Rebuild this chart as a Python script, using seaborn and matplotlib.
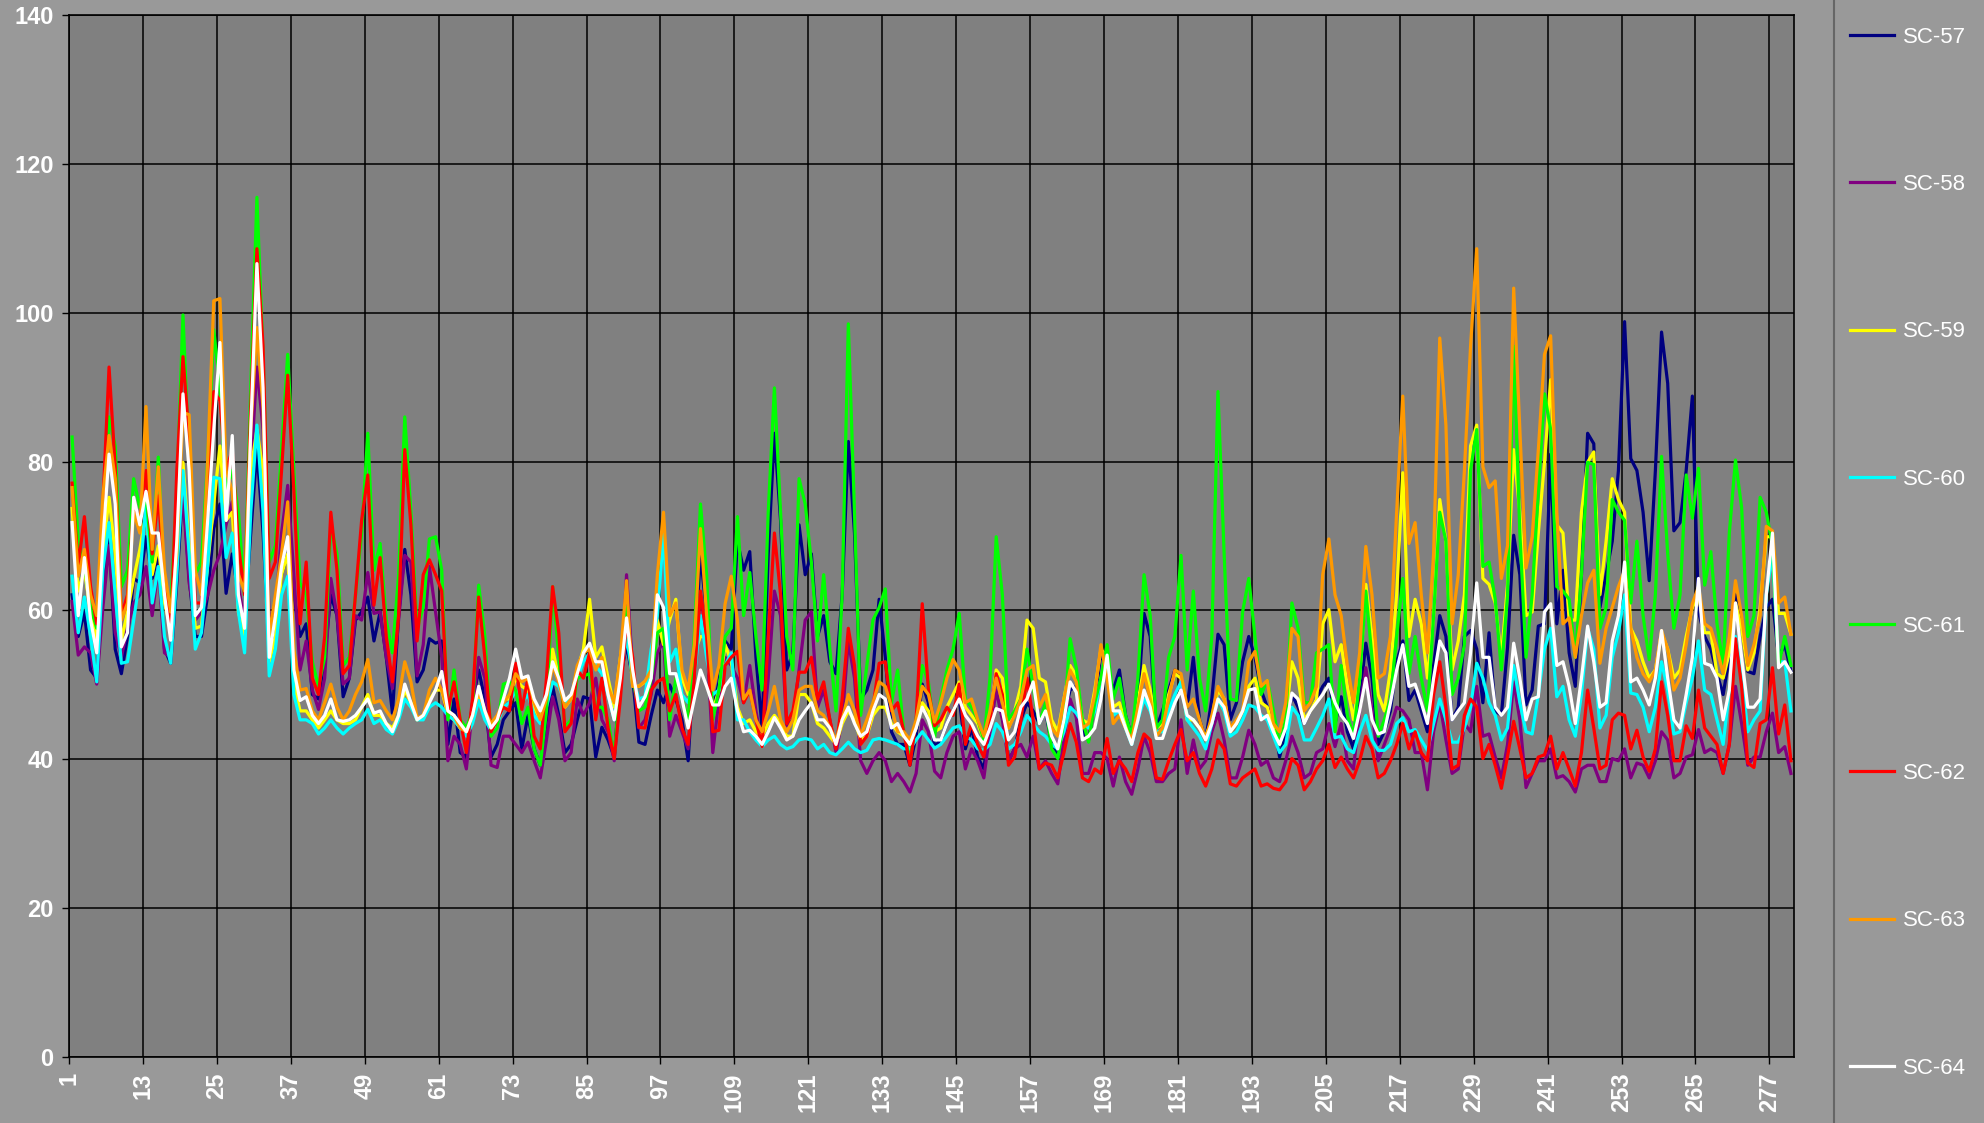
import matplotlib
matplotlib.use("Agg")
import matplotlib.pyplot as plt
import pandas as pd
import seaborn as sns
from matplotlib.lines import Line2D
from matplotlib.patches import Rectangle

plt.rcParams['font.family'] = ['Liberation Sans', 'DejaVu Sans']

series_names = ['SC-57', 'SC-58', 'SC-59', 'SC-60', 'SC-61', 'SC-62', 'SC-63', 'SC-64']
series_colors = ['#000080', '#800080', '#FFFF00', '#00FFFF', '#00FF00', '#FF0000', '#FF9900', '#FFFFFF']

day = list(range(1, 281))
x_tick_labels = [str(v) for v in range(1, 278, 12)]
y_ticks = [0, 20, 40, 60, 80, 100, 120, 140]

sc57 = [62.1, 56.5, 59.8, 52, 50.9, 62.1, 69.9, 54.8, 51.5, 56.5,
        64.3, 63.7, 69.9, 64.3, 67.6, 54.8, 52.9, 63.7, 76.5, 64.3,
        56.5, 56.5, 62, 71, 74.3, 62.3, 67.6, 62.1, 58.7, 70.4,
        81.6, 70.4, 54.8, 57, 64.8, 67.6, 62.1, 56.5, 58.2, 48.7,
        48.1, 53.7, 62.1, 59.3, 48.4, 50.9, 58.7, 59.8, 61.8, 55.9,
        59.8, 53.7, 46.2, 59.3, 68.2, 62.1, 50.4, 52, 56.2, 55.6,
        55.9, 42, 48.1, 40.9, 40.3, 47.6, 52, 48.1, 40.3, 42,
        45.3, 46.5, 47.6, 41.4, 45.9, 41.4, 39.2, 45.3, 49.8, 45.9,
        40.9, 42, 45.3, 48.4, 48.1, 40.3, 44.3, 42.6, 40.3, 50.9,
        55.4, 50.9, 42.3, 42, 45.9, 49.3, 47.6, 50, 48.1, 45.3,
        39.8, 53.7, 67.6, 59.3, 46.5, 50.4, 55.9, 54.8, 69.3, 65.4,
        67.9, 53.7, 44.2, 67.6, 83.8, 72.1, 52, 54.3, 71.5, 64.8,
        67.6, 56.5, 59.3, 53.1, 51.5, 62.1, 82.7, 70.4, 48.1, 49.3,
        52, 61.5, 53.7, 43.7, 42, 42, 39.2, 43.1, 50.1, 47.6,
        41.7, 42.6, 44.8, 46.5, 48.1, 41.4, 44.2, 40.3, 38.7, 45.3,
        50.9, 48.1, 39.8, 41.4, 45.3, 47.6, 46.5, 44.8, 46.5, 42,
        40.3, 45.9, 49.3, 49.8, 43.7, 42.6, 47.6, 54.3, 52, 49.3,
        52, 45.9, 43.1, 48.1, 59.6, 56.5, 44.2, 46.5, 49.3, 52,
        50.9, 47, 53.7, 45.3, 42.6, 48.1, 56.8, 55.4, 45.3, 47.6,
        53.1, 56.5, 53.7, 49.3, 47, 45.3, 40.3, 43.7, 48.7, 47,
        44.8, 46.5, 48.1, 49.8, 50.9, 44.8, 48.4, 43.7, 41.4, 48.1,
        55.6, 50.9, 42, 43.7, 46.5, 53.1, 55.9, 47.9, 49.3, 46.5,
        43.7, 52.6, 59.3, 56.5, 45.3, 47, 56.5, 57.3, 54.8, 47.6,
        57, 46.5, 45.9, 55, 70.1, 64.8, 47.3, 49.3, 57.9, 58.2,
        81, 58.2, 65.4, 54.3, 49.8, 64.8, 83.8, 82.4, 60.4, 64.8,
        69.3, 78.8, 98.8, 80.4, 78.8, 73.2, 64, 78.8, 97.4, 90.5,
        70.7, 71.8, 78.8, 88.8, 59.8, 56.5, 54.8, 51.5, 48.7, 53.7,
        62.1, 58.2, 51.8, 51.5, 56.5, 60.4, 61.5, 53.7, 55.4, 51.8]

sc58 = [61.2, 54, 55.1, 54.3, 50.1, 60.4, 68.7, 57, 53.7, 57.6,
        61, 62.1, 65.9, 59.3, 65.9, 54.3, 53.7, 67.6, 75.4, 63.7,
        58.7, 59.8, 62, 65.4, 67.6, 71.5, 74.6, 63.2, 58.7, 78.8,
        92.7, 84.3, 58.7, 59.8, 70.4, 76.8, 64.8, 52, 55.9, 49.3,
        46.7, 50.9, 64.3, 59.3, 50.1, 50.9, 59.3, 58.7, 65.1, 59.6,
        59.8, 53.7, 49.5, 58.7, 67.4, 66.5, 51.2, 55.4, 65.9, 59.8,
        53.7, 39.8, 43.1, 42, 38.7, 47, 53.7, 50.9, 39.2, 38.9,
        43.1, 43.1, 42, 40.9, 42.3, 39.8, 37.5, 42.6, 48.4, 45.3,
        39.8, 40.9, 48.1, 45.9, 47.6, 50.9, 45.3, 43.7, 39.8, 49.8,
        64.8, 52, 44.2, 45.3, 48.7, 54.3, 55.9, 43.1, 45.9, 43.7,
        41.4, 53.7, 62.1, 56.5, 40.9, 48.1, 53.7, 52.6, 50.9, 47.6,
        52.6, 46.5, 42, 50.9, 62.6, 59.3, 44.5, 45.3, 52, 58.7,
        59.8, 47, 49.3, 45.3, 40.9, 45.3, 55.9, 50.9, 39.8, 38.1,
        39.8, 40.9, 39.8, 37, 38.1, 37, 35.6, 38.1, 45.3, 43.7,
        38.4, 37.5, 40.9, 43.1, 43.7, 38.7, 41.4, 39.8, 37.5, 43.7,
        49.3, 45.3, 39.8, 41.4, 42, 40.3, 43.1, 38.7, 39.8, 38.1,
        36.7, 42.6, 48.1, 45.6, 38.1, 38.1, 40.9, 40.9, 40.1, 36.4,
        40.3, 37, 35.3, 38.7, 43.1, 40.9, 37, 37, 38.1, 38.7,
        45.3, 38.1, 42.6, 38.7, 39.8, 43.7, 46.2, 42.6, 37.5, 37.5,
        40.3, 43.9, 42, 39.2, 39.8, 37.5, 37, 39.8, 43.1, 40.9,
        37.5, 38.1, 40.9, 41.4, 44.8, 41.7, 44.8, 39.8, 38.7, 46.5,
        52.3, 46.5, 39.8, 42, 44.2, 47, 46.5, 45.3, 40.9, 40.9,
        35.9, 43.7, 47.6, 42.6, 38.1, 38.7, 44.8, 43.7, 49.8, 43.1,
        43.4, 40.3, 37.5, 42, 50.4, 45.3, 36.2, 38.1, 39.8, 39.8,
        41.4, 37.5, 37.8, 37, 35.6, 38.7, 39.2, 39.2, 37, 37,
        40.1, 39.8, 41.4, 37.5, 39.5, 39.2, 37.5, 39.8, 43.7, 42.6,
        37.5, 38.1, 40.3, 40.6, 44, 40.9, 41.4, 40.9, 38.1, 42,
        49.8, 44.8, 39.2, 40.3, 40.3, 43.7, 46.2, 40.9, 41.7, 38.1]

sc59 = [73.7, 62.6, 65.4, 59.8, 56, 67.6, 75.2, 67.6, 56, 59.8,
        64.3, 68.2, 73.2, 64.8, 68.7, 61, 57.6, 67.6, 79.9, 68.7,
        57.6, 57.9, 66, 74.3, 82.1, 72.1, 73.2, 59.8, 56.5, 78.8,
        84.3, 78.8, 53.1, 56.5, 64.8, 67.6, 50.4, 46.5, 46.5, 45.3,
        44.2, 45.3, 46.5, 45.3, 44.8, 44.8, 45.3, 47, 48.7, 45.9,
        45.9, 44.8, 44.2, 45.9, 49.3, 47.6, 45.3, 45.9, 47.9, 49.3,
        49.3, 45.9, 45.3, 44.2, 43.4, 45.3, 48.7, 45.9, 44.2, 45.3,
        48.1, 48.1, 50.9, 49.8, 49.3, 47, 45.3, 48.7, 54.8, 50.9,
        47, 48.1, 52, 54.8, 61.5, 53.7, 55.1, 50.9, 47, 53.7,
        59.3, 49.8, 49.8, 50.4, 51.5, 58.7, 55.4, 58.7, 61.5, 50.9,
        48.7, 54.3, 56.5, 56.5, 46.5, 49.3, 55.4, 53.1, 47, 44.8,
        45.3, 43.7, 43.1, 44.8, 45.9, 44.8, 43.1, 43.1, 48.7, 48.7,
        47.6, 44.8, 44.2, 43.1, 42, 44.8, 46.5, 45.3, 42.6, 43.1,
        45.9, 47, 47, 44.8, 43.7, 43.1, 42, 44.2, 47.6, 46.5,
        43.7, 44.2, 47, 48.7, 50.4, 47, 45.9, 44.8, 42.6, 45.3,
        52, 50.9, 44.2, 46.5, 49.8, 58.7, 57.6, 50.9, 50.4, 45.3,
        43.7, 48.1, 52.6, 51.2, 45.3, 44.8, 49.3, 54.8, 53.7, 47,
        47.6, 44.8, 42.6, 47.6, 52.6, 49.3, 44.2, 44.8, 48.7, 51.5,
        50.9, 45.3, 45.3, 44.2, 43.1, 45.3, 49.3, 48.1, 43.7, 44.8,
        46.5, 49.8, 50.9, 47.6, 47, 44.2, 42, 45.3, 53.1, 50.9,
        45.3, 46.5, 48.1, 58.2, 60.1, 53.1, 55.4, 49.8, 45.3, 50.9,
        63.5, 56.5, 48.7, 46.5, 52, 62.1, 78.5, 56.5, 61.5, 58.2,
        50.9, 59.3, 74.9, 69.3, 52, 55.9, 62.1, 82.1, 84.9, 64.3,
        63.5, 61, 53.7, 63.5, 81.6, 73.2, 59.3, 59.8, 70.4, 79.9,
        91, 71.5, 70.4, 58.7, 58.7, 73.2, 79.9, 81.3, 62.1, 69.3,
        77.7, 74.9, 73.2, 57.6, 55.9, 53.1, 50.9, 52, 57, 54.8,
        50.9, 52, 56.5, 60.4, 62.1, 57, 57, 51.5, 50.9, 54.3,
        61, 57.6, 52, 54.3, 60.4, 69.9, 69.9, 59.6, 59.6, 56.8]

sc60 = [64.6, 57, 61.8, 56.5, 50.4, 65.4, 71.8, 62.1, 52.9, 53.1,
        58.7, 64.3, 74.6, 61, 65.9, 56.5, 52.9, 64.8, 78.8, 67.6,
        54.8, 57, 66, 77.9, 77.7, 67.1, 70.4, 59.8, 54.3, 73.2,
        84.9, 73.2, 51.2, 54.8, 62.1, 64.6, 48.7, 45.3, 45.3, 44.8,
        43.4, 44.2, 45.3, 44.2, 43.4, 44.2, 44.8, 45.3, 46.7, 44.8,
        45.3, 44, 43.4, 45.3, 48.1, 47, 45.3, 45.3, 47, 47.6,
        47, 45.9, 45.3, 44.2, 43.1, 44.8, 47.9, 45.3, 43.9, 44.8,
        47, 47.6, 49.3, 47.6, 48.7, 45.9, 44.8, 47, 50.4, 49.8,
        47.6, 48.1, 50.9, 53.1, 54.3, 52.6, 51.5, 48.7, 45.3, 50.9,
        56.5, 50.9, 48.1, 48.4, 54.8, 59.3, 70.4, 53.1, 54.8, 48.7,
        47.6, 50.9, 59.3, 53.7, 48.7, 49.3, 52.6, 54.3, 45.3, 45.3,
        43.7, 42.6, 41.7, 42.6, 43.1, 42, 41.4, 41.7, 42.6, 42.8,
        42.6, 41.4, 42, 40.9, 40.6, 41.4, 42.3, 41.4, 40.9, 41.2,
        42.6, 42.8, 42.6, 42.3, 42, 41.4, 41.4, 42.6, 43.7, 42.6,
        41.5, 42, 43.1, 44.2, 44.5, 43.1, 42.6, 41.4, 41.2, 42,
        44.8, 43.7, 41.4, 42, 43.7, 45.9, 44.8, 43.7, 43.1, 42,
        41.4, 43.7, 47, 46.2, 44.8, 44.2, 46.5, 50.9, 52.6, 45.9,
        46.5, 44.2, 42, 45.3, 48.1, 46.5, 43.7, 43.7, 46.5, 48.7,
        50.4, 45.3, 44.2, 43.1, 41.4, 44.8, 48.1, 46.5, 43.1, 43.7,
        45.3, 47.3, 47, 45.9, 45.3, 43.1, 40.9, 42, 47, 45.9,
        42.6, 42.6, 44.2, 45.9, 48.1, 42.9, 43.1, 41.4, 40.9, 43.7,
        45.9, 42.6, 41.2, 41.2, 42, 44.8, 45.6, 43.7, 44, 42.6,
        41.2, 44.8, 48.1, 45.3, 42.3, 42.3, 44.2, 47, 52.9, 50.9,
        47.6, 45.9, 42.6, 44.2, 52.6, 47.6, 43.7, 43.4, 48.7, 54.8,
        57.6, 48.4, 49.8, 45.3, 43.1, 48.7, 57.6, 54.8, 44.2, 45.9,
        53.7, 57, 62.1, 48.9, 48.7, 47, 43.7, 47, 53.1, 49.3,
        43.4, 43.7, 47.6, 50.9, 55.9, 49.3, 48.7, 45.3, 42, 49.3,
        56.5, 51.5, 43.7, 45.3, 46.5, 62.1, 67.6, 53.1, 53.1, 46.5]

sc61 = [83.3, 69.3, 66, 60.4, 57.6, 71.5, 86, 82.1, 63.2, 65.4,
        77.7, 73.8, 75.4, 66.5, 80.6, 62.1, 60.4, 76, 99.7, 79.9,
        64.8, 66.5, 80, 97.7, 89.9, 76, 78.8, 73.2, 62.1, 89.9,
        115.5, 94.4, 66.5, 68.7, 81.6, 94.4, 78.8, 63.7, 62.1, 53.1,
        49.8, 53.7, 71.5, 67.6, 52.6, 53.7, 62.1, 70.4, 83.8, 65.4,
        69, 58.7, 54.3, 64.8, 86, 73.2, 57.6, 60.4, 69.6, 69.9,
        65.4, 45.3, 52, 45.3, 44.2, 46.5, 63.4, 56.5, 43.1, 44.2,
        50.1, 50.4, 49.3, 44.8, 47, 41.4, 39.2, 46.5, 63.2, 53.7,
        44.3, 45.3, 50.9, 51.2, 51.5, 47, 47, 45.3, 40.3, 50.9,
        60.4, 50.9, 46.5, 47, 50.9, 57, 57.6, 45.3, 50.9, 48.1,
        45.3, 56.5, 74.3, 64.8, 45.3, 49.3, 56.5, 57.6, 72.6, 59.3,
        65.1, 56.5, 49.3, 73.2, 89.9, 73.2, 56.5, 52, 77.7, 74.3,
        66.5, 55.9, 64.8, 54.8, 46.5, 62.1, 98.5, 73.2, 45.9, 52.6,
        58.7, 60.4, 62.9, 47.6, 52, 43.7, 39.8, 45.3, 52.6, 50.4,
        43, 48.1, 52, 54.8, 59.6, 48.1, 47, 45.3, 42.6, 50.9,
        69.9, 62.1, 45.3, 46.5, 48.1, 54.8, 49.8, 44.8, 47.6, 41.4,
        40.1, 45.3, 56.2, 52.3, 45.3, 42.3, 47.6, 50.9, 55.4, 48.1,
        50.9, 45.9, 43.1, 50.9, 64.8, 59.3, 44.2, 45.3, 53.7, 56.5,
        67.4, 52, 62.6, 50.9, 46.5, 56.5, 89.4, 67.6, 48.1, 47.9,
        59.8, 64.3, 56.5, 48.7, 50.6, 46.5, 42, 45.3, 61, 57.6,
        47.6, 47.6, 54.3, 54.8, 55.4, 43.7, 52.6, 45.9, 43.1, 50.9,
        62.6, 53.7, 43.1, 45.3, 48.1, 56.5, 64.3, 51.5, 56.5, 50.9,
        46.5, 59.3, 73.2, 69.3, 48.7, 50.9, 55.4, 78.8, 84.3, 65.9,
        66.5, 61.5, 52, 62, 95.5, 70.4, 53.7, 62.1, 76, 89.1,
        84.3, 63.2, 62.6, 61.5, 53.7, 64.8, 79.9, 79.6, 57.6, 60.4,
        74.9, 73.2, 72.1, 61, 69.3, 59.3, 53.4, 62.1, 80.7, 67.6,
        57.6, 62.1, 78.2, 72.4, 79.1, 63.4, 67.9, 58.2, 52.6, 70.4,
        80.2, 73.8, 56.5, 59.3, 75.2, 73.2, 68.7, 52.6, 56.5, 52.6]

sc62 = [77.1, 66, 72.6, 63.2, 58.2, 74.3, 92.7, 79.3, 59.3, 62.1,
        74.3, 72.1, 78.8, 67.6, 75.4, 64.3, 56.5, 78.8, 94.1, 83.2,
        61, 61, 75, 89.4, 88.2, 78.8, 81.6, 68.7, 62.1, 87.1,
        108.6, 95.5, 64.3, 66.5, 78.8, 91.6, 76, 58.2, 66.5, 50.9,
        48.7, 56.5, 73.2, 65.4, 51.5, 52.6, 62.1, 72.1, 78.2, 60.7,
        67.1, 56.5, 50.4, 59.3, 81.6, 71.5, 55.9, 64.8, 66.8, 64.8,
        62.6, 46.5, 50.4, 45.3, 40.9, 48.1, 61.8, 53.7, 43.7, 45.3,
        47, 46.5, 52.9, 46.7, 50.9, 43.1, 41.4, 50.9, 63.2, 57,
        43.7, 44.8, 52, 50.9, 54.3, 45.3, 50.9, 44.2, 40.1, 48.1,
        58.7, 53.7, 44.3, 44.2, 49.3, 50.4, 50.9, 46.5, 48.7, 44.2,
        42, 50.9, 62.6, 56.5, 43.7, 43.9, 52.6, 53.7, 54.5, 47.6,
        49.3, 45.3, 41.7, 56.5, 70.4, 62.1, 44.8, 46.5, 51.7, 51.7,
        53.7, 48.1, 50.4, 45.3, 41.4, 48.1, 57.6, 52.6, 42, 43.1,
        47, 52.9, 53.1, 46.5, 47.6, 43.7, 39.2, 45.3, 60.9, 49.3,
        44.5, 45.3, 47, 45.9, 50.1, 42, 44.8, 42, 40.3, 45.3,
        51.5, 48.7, 39.2, 40.3, 45.3, 50.9, 45.3, 38.7, 39.5, 39.2,
        37.5, 40.9, 44.8, 42.3, 37.5, 37, 38.7, 38.1, 42.8, 38.1,
        39.8, 38.7, 37, 40.9, 43.4, 42.6, 37.5, 37.3, 39.8, 42,
        44, 39.8, 40.9, 38.1, 36.4, 38.7, 42.6, 41.4, 36.7, 36.4,
        37.5, 38.1, 38.7, 36.4, 36.7, 36.1, 35.9, 37, 40.1, 39.2,
        35.9, 37, 38.7, 39.8, 42, 38.9, 40.3, 38.7, 37.5, 39.8,
        43.1, 41.4, 37.5, 38.1, 39.8, 42, 44.8, 41.4, 43.7, 40.9,
        39.8, 48.7, 53.1, 47, 38.7, 39.2, 45.9, 48.1, 47, 40.1,
        42, 39.2, 36.1, 40.4, 45.1, 41.4, 37.5, 38.1, 40.3, 40.6,
        43.1, 38.7, 40.9, 38.7, 36.4, 40.9, 49.3, 44.2, 38.7, 39.2,
        45.3, 46.2, 45.9, 41.4, 43.9, 40.3, 38.4, 41.4, 50.4, 45.9,
        39.8, 39.8, 44.5, 42.8, 49.3, 44.2, 43.1, 42, 38.1, 42,
        56.2, 49.8, 39.5, 38.9, 44.8, 45.3, 52.3, 43.4, 47.3, 39.8]

sc63 = [76.5, 64.6, 68.2, 62.1, 59.3, 75.4, 83.5, 77.7, 58.7, 61,
        73.2, 70.4, 87.4, 68.2, 79.3, 65.4, 59.8, 67.6, 86.6, 86.3,
        65.4, 62.1, 80, 101.6, 101.9, 78.8, 76, 64.8, 62.6, 84.3,
        98, 87.1, 56.5, 62.1, 67.6, 74.6, 54.8, 49.3, 49.5, 46.5,
        45.3, 47.6, 50.1, 47, 45.3, 46.5, 48.7, 50.4, 53.4, 47.6,
        47.9, 46.5, 45.3, 48.1, 53.1, 50.4, 45.6, 45.9, 49.3, 50.9,
        49.3, 46.5, 45.9, 44.2, 43.7, 45.9, 49.3, 46.5, 44.8, 45.9,
        47.6, 48.7, 51.5, 50.4, 50.9, 47.6, 45.3, 48.1, 52.6, 50.4,
        47, 48.1, 52.6, 54.3, 54.8, 52, 53.7, 49.8, 47.6, 53.7,
        64, 49.8, 49.8, 50.5, 52, 64.8, 73.2, 59.3, 61, 52,
        49.3, 55.4, 71, 59.3, 49.3, 52.6, 60.9, 64.6, 58.7, 48.1,
        49.3, 45.3, 43.7, 46.5, 49.8, 45.3, 43.7, 45.3, 49.3, 49.8,
        49.8, 46.5, 45.9, 44.2, 42.6, 45.3, 48.7, 46.5, 43.1, 45.3,
        47.6, 50.4, 49.8, 47, 43.7, 43.7, 42.6, 45.3, 49.8, 48.7,
        45, 47.6, 50.9, 53.4, 52, 47.6, 48.1, 45.3, 43.1, 46.5,
        50.9, 47.6, 44.2, 45.9, 48.1, 52, 52.6, 47, 48.7, 44.2,
        43.1, 48.1, 52, 50.4, 44.2, 44.8, 48.7, 55.4, 50.9, 44.8,
        45.9, 44.2, 42.6, 47, 51.5, 48.1, 43.1, 44.2, 48.1, 52,
        51.5, 47, 48.1, 45.3, 42.6, 45.9, 49.8, 48.1, 44.2, 45.3,
        46.5, 53.1, 54.5, 49.8, 50.6, 44.8, 43.7, 47.6, 57.6, 56.5,
        46.5, 47.6, 49.8, 64.8, 69.6, 62.1, 59.3, 52.6, 47.6, 54.3,
        68.6, 62.1, 50.9, 51.5, 56.5, 73.2, 88.8, 69, 71.8, 62.1,
        54.3, 67.6, 96.6, 84.9, 58.2, 64.8, 78.8, 95.5, 108.6, 79.3,
        76.5, 77.4, 64.3, 68.7, 103.3, 84.3, 65.7, 69.9, 81.6, 94.4,
        96.9, 73.2, 58.2, 59, 53.7, 59.3, 63.7, 65.4, 52.9, 57.6,
        60.4, 63.2, 65.4, 57.6, 53.7, 51.5, 50.4, 52, 57.3, 54.8,
        49.3, 50.9, 55.4, 60.9, 63.2, 58.2, 57.6, 54.8, 51.5, 56.5,
        64, 59.3, 52.6, 55.4, 59.3, 71.3, 70.7, 61, 61.8, 56.8]

sc64 = [71.8, 59.3, 67.1, 58.7, 54.3, 69.3, 81, 74.3, 55.1, 57,
        75.2, 71.5, 76, 70.4, 70.4, 62.1, 56, 69.3, 89.1, 78.8,
        59.3, 60.4, 72, 84.3, 96, 72.1, 83.5, 62.1, 57.6, 84.3,
        106.6, 89.9, 53.7, 59.3, 65.9, 69.9, 52, 47.9, 48.4, 45.9,
        44.8, 45.9, 48.1, 45.3, 45.1, 45.3, 45.9, 47, 48.1, 46.2,
        46.5, 44.8, 43.7, 45.9, 50.1, 47.6, 45.3, 45.9, 47.6, 49.3,
        51.8, 46.5, 45.9, 44.8, 43.7, 45.9, 49.8, 46.5, 44.2, 45.3,
        48.1, 50.9, 54.8, 50.9, 51.2, 48.1, 46.5, 48.7, 53.1, 50.9,
        47.9, 48.7, 51.5, 54.3, 55.6, 53.1, 53.1, 48.7, 45.3, 50.9,
        59, 52, 47, 48.4, 50.9, 62.1, 60.4, 51.5, 51.5, 48.1,
        44.2, 48.1, 52, 49.8, 47.3, 47.3, 49.8, 50.9, 46.5, 43.7,
        43.9, 43.1, 42, 43.7, 45.6, 44.2, 42.6, 43.1, 45.3, 46.5,
        47.6, 45.3, 45.3, 44.2, 42, 45.3, 47, 44.8, 43.1, 43.7,
        46.5, 48.7, 48.1, 44.2, 44.8, 43.1, 42, 44.2, 47, 45.3,
        42.6, 42.6, 44.8, 46.5, 48.1, 45.9, 44.8, 43.1, 42, 44.2,
        46.8, 46.5, 42.6, 43.7, 47, 48.1, 50.4, 44.8, 46.5, 43.1,
        41.4, 45.3, 50.4, 49, 42.6, 43.1, 44.2, 48.1, 54, 46.5,
        46.5, 44.2, 42, 45.3, 49.3, 47, 42.8, 42.8, 45.3, 47.6,
        49.3, 45.9, 45.3, 44.2, 42.6, 44.8, 48.1, 47, 43.7, 44.8,
        46.5, 49.3, 49.5, 45.3, 45.9, 43.7, 42, 44.2, 48.9, 48.1,
        44.8, 46.5, 47.6, 48.7, 50.1, 47.6, 45.9, 44.8, 42.8, 46.5,
        50.9, 45.3, 43.4, 43.7, 47.6, 52, 55.4, 49.8, 50.1, 47.6,
        44.8, 50.9, 55.9, 54.3, 45.3, 46.5, 47.6, 54.3, 63.7, 53.7,
        53.7, 47, 45.9, 47, 55.6, 50.9, 45.3, 48.1, 48.4, 59.8,
        60.9, 52.6, 53.1, 49.8, 44.8, 50.9, 57.9, 53.1, 47, 47.6,
        55.9, 59.3, 66.5, 50.4, 50.9, 49.3, 47.3, 50.9, 57.3, 50.9,
        45.3, 44.2, 48.7, 53.7, 64.3, 52.9, 52.6, 50.9, 45.3, 49.3,
        61, 53.7, 47, 47, 48.1, 62.1, 70.4, 52.3, 53.1, 51.7]

all_series = [sc57, sc58, sc59, sc60, sc61, sc62, sc63, sc64]

frames = []
for name, vals in zip(series_names, all_series):
    frames.append(pd.DataFrame({'day': day, 'value': vals, 'series': name}))
long_df = pd.concat(frames, ignore_index=True)

W, H = 1984, 1123
fig = plt.figure(figsize=(W / 100, H / 100), dpi=100, facecolor='#999999')
ax = fig.add_axes([69 / W, (H - 1057) / H, (1794 - 69) / W, (1057 - 15) / H])
ax.set_facecolor('#808080')

palette = dict(zip(series_names, series_colors))
sns.lineplot(data=long_df, x='day', y='value', hue='series', hue_order=series_names,
             palette=palette, linewidth=2.3, legend=False, ax=ax,
             estimator=None, sort=False)

tick_pos = [int(l) - 0.5 for l in x_tick_labels]
ax.set_xlim(0.5, 280.5)
ax.set_ylim(0, 140)
ax.set_xticks(tick_pos)
ax.set_xticklabels(x_tick_labels, rotation=90)
ax.set_yticks(y_ticks)
ax.set_yticklabels([str(v) for v in y_ticks])
ax.set_xlabel('')
ax.set_ylabel('')
ax.grid(True, color='black', linewidth=1.1)
ax.set_axisbelow(True)
for s in ax.spines.values():
    s.set_color('black')
    s.set_linewidth(1.2)
ax.tick_params(axis='both', colors='black', length=5, width=1, pad=6,
               labelcolor='white', labelsize=17)
for lab in ax.get_xticklabels() + ax.get_yticklabels():
    lab.set_fontweight('bold')

# legend panel
fig.patches.append(Rectangle((1834 / W, -0.01), (W - 1834) / W + 0.01, 1.02,
                             transform=fig.transFigure, facecolor='#999999',
                             edgecolor='#666666', linewidth=1.5, zorder=0))
handles = [Line2D([], [], color=c, lw=2.3) for c in series_colors]
fig.legend(handles, series_names, loc='upper left',
           bbox_to_anchor=(1850 / W, 1 - 27 / H), frameon=False,
           fontsize=16, labelcolor='white', labelspacing=5.68,
           handlelength=2.0, handletextpad=0.38, borderpad=0, borderaxespad=0)

fig.savefig('out.png', dpi=100, facecolor=fig.get_facecolor())
